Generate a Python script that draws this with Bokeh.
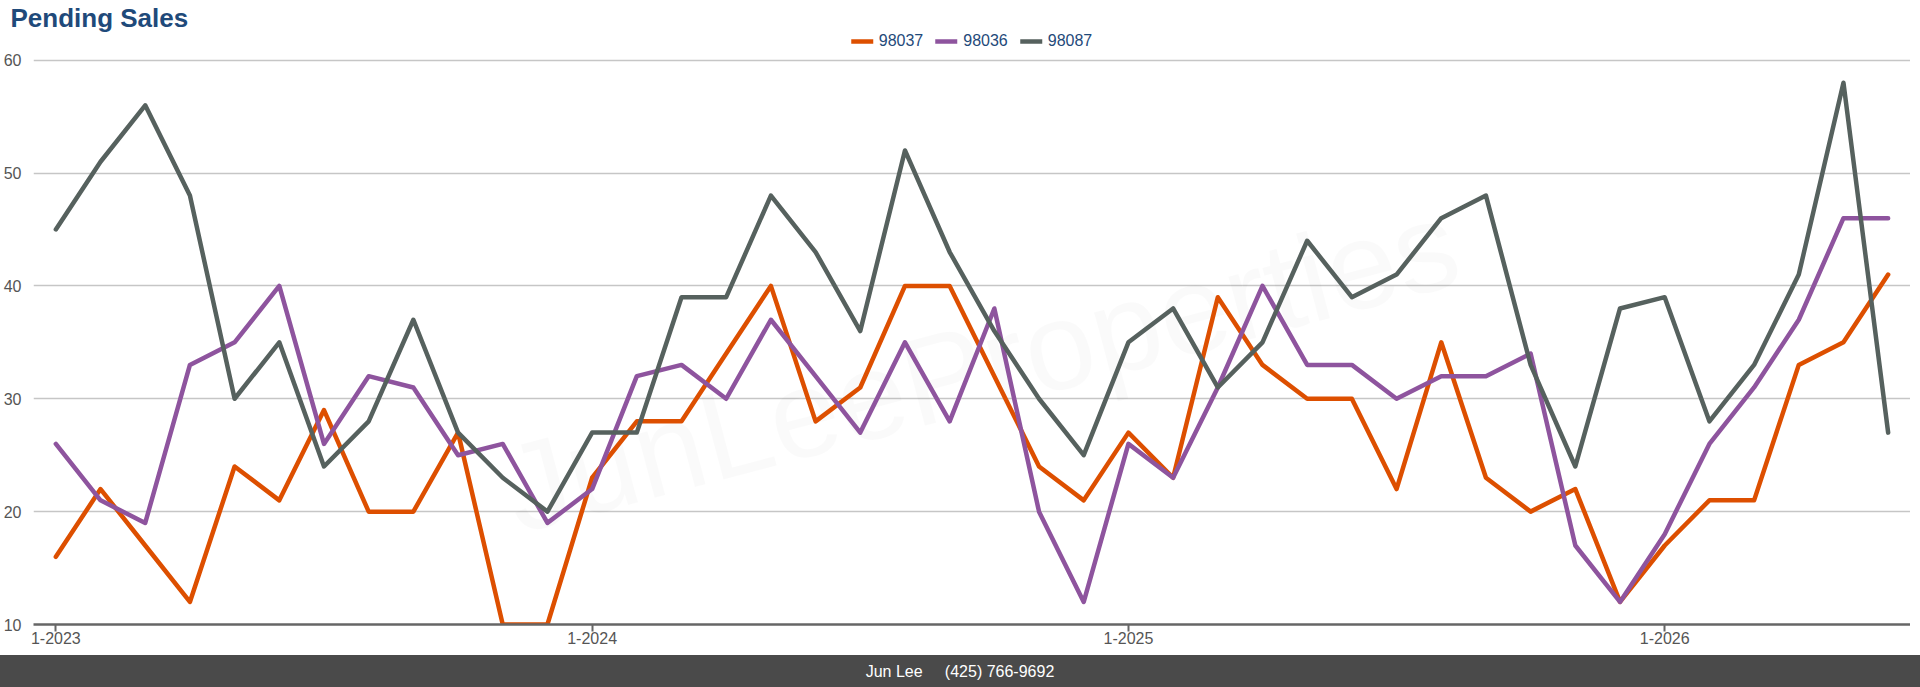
from bokeh.plotting import figure
from bokeh.models import Range1d, FixedTicker, Legend, LegendItem, Label, Div
from bokeh.layouts import column
from bokeh.embed import file_html
from bokeh.resources import INLINE

# pending sales per month, 1-2023 .. 6-2026
zips = ["98037", "98036", "98087"]
colors = ["#DD4F00", "#8E549E", "#56615E"]

sales_98037 = [16, 22, 17, 12, 24, 21, 29, 20, 20, 27, 10, 10, 23, 28, 28, 34, 40, 28, 31, 40, 40,
               32, 24, 21, 27, 23, 39, 33, 30, 30, 22, 35, 23, 20, 22, 12, 17, 21, 21, 33, 35, 41]
sales_98036 = [26, 21, 19, 33, 35, 40, 26, 32, 31, 25, 26, 19, 22, 32, 33, 30, 37, 32, 27, 35, 28,
               38, 20, 12, 26, 23, 31, 40, 33, 33, 30, 32, 32, 34, 17, 12, 18, 26, 31, 37, 46, 46]
sales_98087 = [45, 51, 56, 48, 30, 35, 24, 28, 37, 27, 23, 20, 27, 27, 39, 39, 48, 43, 36, 52, 43,
               36, 30, 25, 35, 38, 31, 35, 44, 39, 41, 46, 48, 33, 24, 38, 39, 28, 33, 41, 58, 27]

months = [f"{m}-{y}" for y in range(2023, 2027) for m in range(1, 13)][:len(sales_98037)]
tick_months = ["1-2023", "1-2024", "1-2025", "1-2026"]
y_ticks = [10, 20, 30, 40, 50, 60]

FONT = "Liberation Sans"
NAVY = "#1F4A7A"
GREY_TXT = "#555555"
BAR = "#4a4a4a"

x = list(range(len(months)))

# frame runs fig px 30..624, value 60 sits near 57.8 -> headroom above it for the legend
p = figure(width=1910, height=650,
           x_range=Range1d(-0.5, len(months) - 0.5), y_range=Range1d(10, 62.45),
           output_backend="svg", toolbar_location=None,
           min_border_left=0, min_border_right=0, min_border_top=30, min_border_bottom=26)
p.outline_line_color = None
p.background_fill_color = "white"

p.title.text = "Pending Sales"
p.title.text_font = FONT
p.title.text_font_size = "26px"
p.title.text_font_style = "bold"
p.title.text_color = NAVY
p.title.offset = -23
p.title.standoff = 0

# faint watermark behind the lines
wm = Label(x=20.7, y=32.9, text="JunLeeProperties", angle=0.26,
           text_align="center", text_baseline="middle",
           text_font=FONT, text_font_size="125px",
           text_color="#000000", text_alpha=0.018, level="underlay")
p.add_layout(wm)

items = []
for name, col, ys in zip(zips, colors, [sales_98037, sales_98036, sales_98087]):
    r = p.line(x, ys, line_color=col, line_width=4.5, line_join="round", line_cap="round")
    items.append(LegendItem(label=name, renderers=[r]))

legend = Legend(items=items, orientation="horizontal", location="top_center",
                label_text_font=FONT, label_text_font_size="16px", label_text_color=NAVY,
                glyph_width=22, glyph_height=16, label_standoff=6, spacing=12,
                padding=2, margin=0, border_line_color=None, background_fill_alpha=0)
p.add_layout(legend)

p.xgrid.grid_line_color = None
p.ygrid.grid_line_color = "#c6c6c6"
p.ygrid.grid_line_width = 1.5

p.yaxis.ticker = FixedTicker(ticks=y_ticks)
p.yaxis.axis_line_color = None
p.yaxis.major_tick_line_color = None
p.yaxis.minor_tick_line_color = None
p.yaxis.major_label_text_font = FONT
p.yaxis.major_label_text_font_size = "16px"
p.yaxis.major_label_text_color = GREY_TXT
p.yaxis.major_label_standoff = 6

tick_idx = [months.index(t) for t in tick_months]
p.xaxis.ticker = FixedTicker(ticks=tick_idx)
p.xaxis.major_label_overrides = {i: months[i] for i in tick_idx}
p.xaxis.axis_line_color = "#666666"
p.xaxis.axis_line_width = 2.5
p.xaxis.major_tick_line_color = "#666666"
p.xaxis.major_tick_line_width = 2
p.xaxis.major_tick_out = 7
p.xaxis.major_tick_in = 0
p.xaxis.minor_tick_line_color = None
p.xaxis.major_label_text_font = FONT
p.xaxis.major_label_text_font_size = "16px"
p.xaxis.major_label_text_color = GREY_TXT
p.xaxis.major_label_standoff = 0

# contact bar; the shadows stretch it to the window edges without growing the page
footer = Div(text="Jun Lee &nbsp;&nbsp;&nbsp; (425) 766-9692", width=1910, height=21,
             styles={"background-color": BAR, "color": "white", "text-align": "center",
                     "font-family": FONT, "font-size": "16px", "line-height": "34px",
                     "box-shadow": f"0 6px 0 6px {BAR}, -2px 6px 0 6px {BAR}"})

layout = column(p, footer, spacing=0)

open("out.html", "w").write(file_html(layout, INLINE))
